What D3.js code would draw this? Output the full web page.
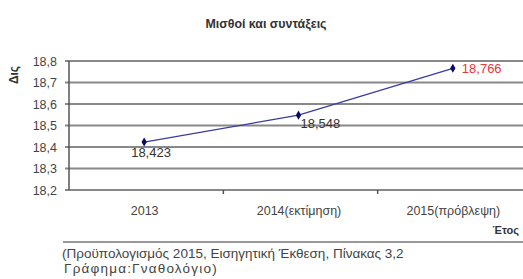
<!DOCTYPE html>
<html>
<head>
<meta charset="utf-8">
<script src="https://cdn.jsdelivr.net/npm/d3@7"></script>
<style>
  body { margin: 0; background: #fff; }
  text { font-family: "Liberation Sans", Arial, sans-serif; }
</style>
</head>
<body>
<div id="chart"></div>
<script>
/* chart data */
var years = ["2013", "2014(εκτίμηση)", "2015(πρόβλεψη)"]
var values = [18.423, 18.548, 18.766]
var yTicks = [18.2, 18.3, 18.4, 18.5, 18.6, 18.7, 18.8]
var labelColors = ["#333", "#333", "#e8343c"]

var W = 523, H = 279
var plot = { left: 69, right: 532, top: 61, bottom: 190 }

var comma = function(v, digits) { return v.toFixed(digits).replace(".", ",") }

var svg = d3.select("#chart").append("svg")
  .attr("width", W)
  .attr("height", H)

var x = d3.scaleBand().domain(years).range([plot.left, plot.right])
var y = d3.scaleLinear().domain([18.2, 18.8]).range([plot.bottom, plot.top])

/* title */
svg.append("text")
  .attr("x", 266).attr("y", 28)
  .attr("text-anchor", "middle")
  .style("font-size", "12.4px").style("font-weight", "bold").style("fill", "#333")
  .text("Μισθοί και συντάξεις")

/* gridlines */
svg.append("g").selectAll("line")
  .data(yTicks)
  .join("line")
  .attr("x1", plot.left - 4).attr("x2", W)
  .attr("y1", function(d) { return y(d) })
  .attr("y2", function(d) { return y(d) })
  .style("stroke", "#888")
  .style("stroke-width", 2)

/* y axis */
svg.append("line")
  .attr("x1", plot.left).attr("x2", plot.left)
  .attr("y1", plot.top).attr("y2", plot.bottom)
  .style("stroke", "#555").style("stroke-width", 1.5)

svg.append("g").selectAll("text")
  .data(yTicks)
  .join("text")
  .attr("x", 57)
  .attr("y", function(d) { return y(d) + 4.5 })
  .attr("text-anchor", "end")
  .style("font-size", "12.5px").style("fill", "#444")
  .text(function(d) { return comma(d, 1) })

svg.append("text")
  .attr("transform", "translate(18,75) rotate(-90)")
  .attr("text-anchor", "middle")
  .style("font-size", "12px").style("font-weight", "bold").style("fill", "#333")
  .text("Δις")

/* x ticks between categories */
svg.append("g").selectAll("line")
  .data(years.slice(1))
  .join("line")
  .attr("x1", function(d) { return x(d) }).attr("x2", function(d) { return x(d) })
  .attr("y1", plot.bottom).attr("y2", plot.bottom + 4)
  .style("stroke", "#555").style("stroke-width", 1.5)

svg.append("g").selectAll("text")
  .data(years)
  .join("text")
  .attr("x", function(d) { return x(d) + x.bandwidth() / 2 - 1.5 })
  .attr("y", 215)
  .attr("text-anchor", "middle")
  .style("font-size", "12.5px").style("fill", "#444")
  .text(function(d) { return d })

svg.append("text")
  .attr("x", 519).attr("y", 234)
  .attr("text-anchor", "end")
  .style("font-size", "11px").style("font-weight", "bold").style("fill", "#333")
  .text("Έτος")

/* line + markers */
var cx = function(d, i) { return x(years[i]) + x.bandwidth() / 2 - 2 }
var line = d3.line().x(cx).y(function(d) { return y(d) })

svg.append("path")
  .attr("d", line(values))
  .attr("fill", "none")
  .attr("stroke", "#3a3aa0")
  .attr("stroke-width", 1.2)

svg.append("g").selectAll("path")
  .data(values)
  .join("path")
  .attr("transform", function(d, i) { return "translate(" + cx(d, i) + "," + y(d) + ")" })
  .attr("d", d3.symbol(d3.symbolDiamond, 24))
  .attr("fill", "#0a0a6a")

/* value labels */
var labelDx = [-13, 2, 9]
var labelDy = [15, 13, 4.5]
svg.append("g").selectAll("text")
  .data(values)
  .join("text")
  .attr("x", function(d, i) { return cx(d, i) + labelDx[i] })
  .attr("y", function(d, i) { return y(d) + labelDy[i] })
  .style("font-size", "13px")
  .style("fill", function(d, i) { return labelColors[i] })
  .text(function(d) { return comma(d, 3) })

/* source note */
svg.append("line")
  .attr("x1", 63).attr("x2", W)
  .attr("y1", 242).attr("y2", 242)
  .style("stroke", "#777").style("stroke-width", 1.5)

svg.append("text")
  .attr("x", 62).attr("y", 258)
  .style("font-size", "13.5px").style("fill", "#444")
  .text("(Προϋπολογισμός 2015, Εισηγητική Έκθεση, Πίνακας 3,2")
svg.append("text")
  .attr("x", 64).attr("y", 273)
  .style("font-size", "13.5px").style("letter-spacing", "1.2px").style("fill", "#444")
  .text("Γράφημα:Γναθολόγιο)")
</script>
</body>
</html>
